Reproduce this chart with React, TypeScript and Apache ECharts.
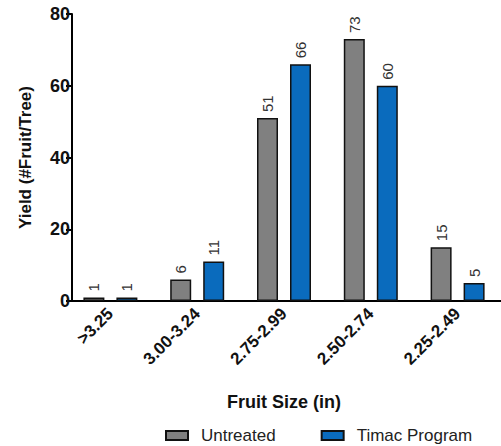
import React, { useEffect, useRef } from "react";
import * as echarts from "echarts";

const categories = [">3.25", "3.00-3.24", "2.75-2.99", "2.50-2.74", "2.25-2.49"];
const untreated = [1, 6, 51, 73, 15];
const timac = [1, 11, 66, 60, 5];
const seriesNames = ["Untreated", "Timac Program"];
const yTicks = { min: 0, max: 80, interval: 20 };

const FONT = "'Liberation Sans', Arial, sans-serif";
const BAR_W = 21;
const BAR_GAP = 12;

export default function App() {
  const ref = useRef<HTMLDivElement>(null);
  useEffect(() => {
    if (!ref.current) return;
    const chart = echarts.init(ref.current, null, { renderer: "svg" });
    chart.setOption({
      animation: false,
      grid: { left: 67, width: 440, top: 14, height: 287 },
      legend: {
        top: 422,
        left: 160,
        itemWidth: 22,
        itemHeight: 9,
        itemGap: 45,
        icon: "rect",
        textStyle: { fontSize: 17, color: "#222", fontFamily: FONT, padding: [0, 0, 0, 8] },
        data: seriesNames,
      },
      xAxis: {
        type: "category",
        data: categories,
        name: "Fruit Size (in)",
        nameLocation: "middle",
        nameGap: 92,
        nameTextStyle: { fontSize: 18, fontWeight: "bold", color: "#111", fontFamily: FONT },
        axisLine: { lineStyle: { color: "#000", width: 2 } },
        axisTick: { alignWithLabel: true, length: 6, lineStyle: { color: "#000", width: 2 } },
        axisLabel: {
          rotate: 45,
          interval: 0,
          margin: 10,
          fontSize: 17,
          fontWeight: "bold",
          color: "#111",
          fontFamily: FONT,
        },
      },
      yAxis: {
        type: "value",
        min: yTicks.min,
        max: yTicks.max,
        interval: yTicks.interval,
        offset: -5,
        name: "Yield (#Fruit/Tree)",
        nameLocation: "middle",
        nameGap: 38,
        nameTextStyle: { fontSize: 17, fontWeight: "bold", color: "#111", fontFamily: FONT },
        splitLine: { show: false },
        axisLine: { show: true, lineStyle: { color: "#000", width: 2 } },
        axisTick: { show: true, length: 6, lineStyle: { color: "#000", width: 2 } },
        axisLabel: { margin: 2, fontSize: 18, fontWeight: "bold", color: "#111", fontFamily: FONT },
      },
      series: [
        {
          name: seriesNames[0],
          type: "bar",
          data: untreated,
          barWidth: BAR_W,
          barGap: (BAR_GAP / BAR_W) * 100 + "%",
          itemStyle: { color: "#808080", borderColor: "#111", borderWidth: 1.5 },
        },
        {
          name: seriesNames[1],
          type: "bar",
          data: timac,
          barWidth: BAR_W,
          barGap: (BAR_GAP / BAR_W) * 100 + "%",
          itemStyle: { color: "#0a6bbd", borderColor: "#111", borderWidth: 1.5 },
        },
      ],
    });

    const texts: any[] = [];
    const addLabels = (values: number[], side: number) => {
      values.forEach((v, i) => {
        const pt = chart.convertToPixel({ gridIndex: 0 }, [i, v]) as number[];
        const off = (side * (BAR_W + BAR_GAP)) / 2;
        texts.push({
          type: "text",
          x: pt[0] + off,
          y: pt[1] - 6,
          rotation: Math.PI / 2,
          silent: true,
          style: {
            text: String(v),
            align: "left",
            verticalAlign: "middle",
            fontSize: 15,
            fill: "#333",
            fontFamily: FONT,
          },
        });
      });
    };
    addLabels(untreated, -1);
    addLabels(timac, 1);
    chart.setOption({ graphic: texts });

    return () => chart.dispose();
  }, []);
  return (
    <div
      ref={ref}
      style={{ position: "fixed", left: 0, top: 0, width: 501, height: 446, background: "#fff" }}
    />
  );
}
